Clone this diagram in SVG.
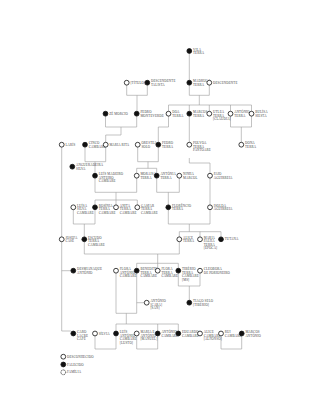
<svg xmlns="http://www.w3.org/2000/svg" width="320" height="414" viewBox="0 0 320 414">
<style>
.bg{fill:#fff}
.c{fill:none;stroke:#9a9a9a;stroke-width:0.6}
.o{fill:#fff;stroke:#111;stroke-width:0.8}
.f{fill:#111;stroke:#111;stroke-width:0.8}
text{font-family:"Liberation Serif",serif;font-size:3.2px;fill:#444;letter-spacing:0.15px}
</style>
<rect class="bg" width="320" height="414"/>
<g id="connectors">
<path class="c" d="M189.3 53.5V80.3"/>
<path class="c" d="M126.7 85V95.3H147.3V85M137 95.3V111.3"/>
<path class="c" d="M189.3 85V95.3H209.3V85M199.3 95.3V105M168.5 105H251.5M168.5 105V111.3M189.3 105V111.3M209.3 105V111.3M230.5 105V111.3M251.5 105V111.3"/>
<path class="c" d="M105.5 116V127H136.7V116M121 127V135H105.7V142.3"/>
<path class="c" d="M168.5 116V127H158.3V142.3"/>
<path class="c" d="M189.3 116V142.3"/>
<path class="c" d="M230.5 116V127H251.5V116M241.3 127V142.3"/>
<path class="c" d="M61.7 147V236.9"/>
<path class="c" d="M85 147V161.7H105.7V147M95 161.7V173.3"/>
<path class="c" d="M137.7 147V161.7H158.3V147M148 161.7V168.3M136.7 168.3H156.7M136.7 168.3V173.3M156.7 168.3V173.3"/>
<path class="c" d="M95 178V192.3H136.7V178M116 192.3V200M95 200H137.3M95 200V205M116 200V205M137.3 200V205"/>
<path class="c" d="M156.7 178V192.3H179.3V178M168.3 192.3V205"/>
<path class="c" d="M189.3 158V163H210V173.3M210 178V205"/>
<path class="c" d="M73.3 209.7V224H95V209.7M84.3 224V236.9"/>
<path class="c" d="M168.3 209.7V224H210V209.7M189.3 224V231.7M179.3 231.7H221M179.3 231.7V236.9M200 231.7V236.9M221 231.7V236.9"/>
<path class="c" d="M84.3 241.7V254H179.3V241.7M157.7 254V263.3M136.7 263.3H178.3M136.7 263.3V268.3M157.7 263.3V268.3M178.3 263.3V268.3"/>
<path class="c" d="M61.7 241.7V331H70.9"/>
<path class="c" d="M61.7 270.7H70.9"/>
<path class="c" d="M116 273V313.3H136.7V273M136.7 302.7H144.3M126.3 313.3V324M116 324H178.3M116 324V331.1M157.7 324V331.1M178.3 324V331.1"/>
<path class="c" d="M178.3 273V286H200V273M189.3 286V300.3"/>
<path class="c" d="M95 336V349H116V336"/>
<path class="c" d="M136.7 336V349H157.7V336"/>
<path class="c" d="M221 336V349H241.7V336"/>
</g>
<g id="n1"><circle class="f" cx="189.3" cy="51" r="2.4"/><text x="193" y="50.5">VILA</text><text x="193" y="54">TERRA</text></g>
<g id="n2"><circle class="o" cx="126.7" cy="82.7" r="2.4"/><text x="130.4" y="83.8">[TÍTULO]</text></g>
<g id="n3"><circle class="f" cx="147.3" cy="82.7" r="2.4"/><text x="151" y="82.2">DESCENDENTE</text><text x="151" y="85.7">TALISTA</text></g>
<g id="n4"><circle class="f" cx="189.3" cy="82.7" r="2.4"/><text x="193" y="82.2">MADRUGA</text><text x="193" y="85.7">TERRA</text></g>
<g id="n5"><circle class="o" cx="209.3" cy="82.7" r="2.4"/><text x="213" y="83.8">DESCENDENTE</text></g>
<g id="n6"><circle class="f" cx="105.5" cy="113.7" r="2.4"/><text x="109.2" y="114.8">ZÉ MORCIO</text></g>
<g id="n7"><circle class="f" cx="136.7" cy="113.7" r="2.4"/><text x="140.4" y="113.2">PEDRO</text><text x="140.4" y="116.7">MONTEVERDE</text></g>
<g id="n8"><circle class="o" cx="168.5" cy="113.7" r="2.4"/><text x="172.2" y="113.2">DOA</text><text x="172.2" y="116.7">TERRA</text></g>
<g id="n9"><circle class="f" cx="189.3" cy="113.7" r="2.4"/><text x="193" y="113.2">MARCOS</text><text x="193" y="116.7">TERRA</text></g>
<g id="n10"><circle class="o" cx="209.3" cy="113.7" r="2.4"/><text x="213" y="113.2">UTLEA</text><text x="213" y="116.7">TERRA</text><text x="213" y="120.2">[CLÁUDIA]</text></g>
<g id="n11"><circle class="o" cx="230.5" cy="113.7" r="2.4"/><text x="234.2" y="113.2">ANTÓNIO</text><text x="234.2" y="116.7">TERRA</text></g>
<g id="n12"><circle class="o" cx="251.5" cy="113.7" r="2.4"/><text x="255.2" y="113.2">BULÍSA</text><text x="255.2" y="116.7">SIESTA</text></g>
<g id="n13"><circle class="o" cx="61.7" cy="144.7" r="2.4"/><text x="65.4" y="145.8">LARÍS</text></g>
<g id="n14"><circle class="f" cx="85" cy="144.7" r="2.4"/><text x="88.7" y="144.2">CINCO</text><text x="88.7" y="147.7">CAMBARE</text></g>
<g id="n15"><circle class="o" cx="105.7" cy="144.7" r="2.4"/><text x="109.4" y="145.8">MARIA RITA</text></g>
<g id="n16"><circle class="o" cx="137.7" cy="144.7" r="2.4"/><text x="141.4" y="144.2">ORESTEA</text><text x="141.4" y="147.7">SOLO</text></g>
<g id="n17"><circle class="f" cx="158.3" cy="144.7" r="2.4"/><text x="162" y="144.2">PEDRO</text><text x="162" y="147.7">TERRA</text></g>
<g id="n18"><circle class="o" cx="189.3" cy="144.7" r="2.4"/><text x="193" y="144.2">POLVOA</text><text x="193" y="147.7">TERRA</text><text x="193" y="151.2">PANTOARE</text></g>
<g id="n19"><circle class="o" cx="241.3" cy="144.7" r="2.4"/><text x="245" y="144.2">DONA</text><text x="245" y="147.7">TERRA</text></g>
<g id="n20"><circle class="f" cx="72.3" cy="166.7" r="2.4"/><text x="76" y="166.2">ANGUERADEIRA</text><text x="76" y="169.7">SILVA</text></g>
<g id="n21"><circle class="f" cx="95" cy="175.7" r="2.4"/><text x="98.7" y="175.2">LUÍS MADEIRO</text><text x="98.7" y="178.7">ANTEIRO</text><text x="98.7" y="182.2">CAMBARE</text></g>
<g id="n22"><circle class="o" cx="136.7" cy="175.7" r="2.4"/><text x="140.4" y="175.2">MORAISA</text><text x="140.4" y="178.7">TERRA</text></g>
<g id="n23"><circle class="f" cx="156.7" cy="175.7" r="2.4"/><text x="160.4" y="175.2">ANTÓNIA</text><text x="160.4" y="178.7">TERRA</text></g>
<g id="n24"><circle class="o" cx="179.3" cy="175.7" r="2.4"/><text x="183" y="175.2">NINHA</text><text x="183" y="178.7">MARCOL</text></g>
<g id="n25"><circle class="o" cx="210" cy="175.7" r="2.4"/><text x="213.7" y="175.2">PAIO</text><text x="213.7" y="178.7">AGUIRREIA</text></g>
<g id="n26"><circle class="o" cx="73.3" cy="207.3" r="2.4"/><text x="77" y="206.8">LUÍSA</text><text x="77" y="210.3">SILVA</text><text x="77" y="213.8">CAMBARE</text></g>
<g id="n27"><circle class="f" cx="95" cy="207.3" r="2.4"/><text x="98.7" y="206.8">ROSÍNIA</text><text x="98.7" y="210.3">TERRA</text><text x="98.7" y="213.8">CAMBARE</text></g>
<g id="n28"><circle class="o" cx="116" cy="207.3" r="2.4"/><text x="119.7" y="206.8">ANITA</text><text x="119.7" y="210.3">TERRA</text><text x="119.7" y="213.8">CAMBARE</text></g>
<g id="n29"><circle class="o" cx="137.3" cy="207.3" r="2.4"/><text x="141" y="206.8">GASPAR</text><text x="141" y="210.3">TERRA</text><text x="141" y="213.8">CAMBARE</text></g>
<g id="n30"><circle class="f" cx="168.3" cy="207.3" r="2.4"/><text x="172" y="206.8">FLORÊNCIO</text><text x="172" y="210.3">TERRA</text></g>
<g id="n31"><circle class="o" cx="210" cy="207.3" r="2.4"/><text x="213.7" y="206.8">ISOLDA</text><text x="213.7" y="210.3">AGUIRREIA</text></g>
<g id="n32"><circle class="o" cx="61.7" cy="239.3" r="2.4"/><text x="65.4" y="238.8">JOSEFA</text><text x="65.4" y="242.3">CASÉ</text></g>
<g id="n33"><circle class="f" cx="84.3" cy="239.3" r="2.4"/><text x="88" y="238.8">ESCUDO</text><text x="88" y="242.3">TERRA</text><text x="88" y="245.8">CAMBARE</text></g>
<g id="n34"><circle class="o" cx="179.3" cy="239.3" r="2.4"/><text x="183" y="238.8">ALICE</text><text x="183" y="242.3">TERRA</text></g>
<g id="n35"><circle class="o" cx="200" cy="239.3" r="2.4"/><text x="203.7" y="238.8">MARIA</text><text x="203.7" y="242.3">PALHA</text><text x="203.7" y="245.8">TERRA</text><text x="203.7" y="249.3">[ÉPOCA]</text></g>
<g id="n36"><circle class="f" cx="221" cy="239.3" r="2.4"/><text x="224.7" y="240.4">TUTANA</text></g>
<g id="n37"><circle class="f" cx="73.3" cy="270.7" r="2.4"/><text x="77" y="270.2">DESMIANAQUE</text><text x="77" y="273.7">ANTÓNIO</text></g>
<g id="n38"><circle class="o" cx="116" cy="270.7" r="2.4"/><text x="119.7" y="270.2">FLORA</text><text x="119.7" y="273.7">ANTÓNIO</text><text x="119.7" y="277.2">CAMBARE</text></g>
<g id="n39"><circle class="f" cx="136.7" cy="270.7" r="2.4"/><text x="140.4" y="270.2">BENEDITO</text><text x="140.4" y="273.7">TERRA</text><text x="140.4" y="277.2">CAMBARE</text></g>
<g id="n40"><circle class="o" cx="157.7" cy="270.7" r="2.4"/><text x="161.4" y="270.2">FLORA</text><text x="161.4" y="273.7">TERRA</text><text x="161.4" y="277.2">CAMBARE</text></g>
<g id="n41"><circle class="f" cx="178.3" cy="270.7" r="2.4"/><text x="182" y="270.2">TIBÉRIO</text><text x="182" y="273.7">TERRA</text><text x="182" y="277.2">CAMBARE</text><text x="182" y="280.7">[MS]</text></g>
<g id="n42"><circle class="o" cx="200" cy="270.7" r="2.4"/><text x="203.7" y="270.2">CLEOBORA</text><text x="203.7" y="273.7">DE PORIONEIRO</text></g>
<g id="n43"><circle class="o" cx="146.7" cy="302.7" r="2.4"/><text x="150.4" y="302.2">ANTÓNIO</text><text x="150.4" y="305.7">[CARA]</text><text x="150.4" y="309.2">[SAN]</text></g>
<g id="n44"><circle class="f" cx="189.3" cy="302.7" r="2.4"/><text x="193" y="302.2">TIAGO SELO</text><text x="193" y="305.7">[TIBÉRIO]</text></g>
<g id="n45"><circle class="f" cx="73.3" cy="333.5" r="2.4"/><text x="77" y="333">CARO</text><text x="77" y="336.5">LACRE</text><text x="77" y="340">CAFÉ</text></g>
<g id="n46"><circle class="o" cx="95" cy="333.5" r="2.4"/><text x="98.7" y="334.6">SÍLVIA</text></g>
<g id="n47"><circle class="f" cx="116" cy="333.5" r="2.4"/><text x="119.7" y="333">LUÍS</text><text x="119.7" y="336.5">ANTÓNIO</text><text x="119.7" y="340">CAMBARE</text><text x="119.7" y="343.5">[LUSTO]</text></g>
<g id="n48"><circle class="o" cx="136.7" cy="333.5" r="2.4"/><text x="140.4" y="333">MARIA E</text><text x="140.4" y="336.5">ANTÓNIO</text><text x="140.4" y="340">[MANUEL]</text></g>
<g id="n49"><circle class="f" cx="157.7" cy="333.5" r="2.4"/><text x="161.4" y="333">ANTÓNIO</text><text x="161.4" y="336.5">CAMBARE</text></g>
<g id="n50"><circle class="f" cx="178.3" cy="333.5" r="2.4"/><text x="182" y="333">EDUARDO</text><text x="182" y="336.5">CAMBARE</text></g>
<g id="n51"><circle class="o" cx="200" cy="333.5" r="2.4"/><text x="203.7" y="333">ALICE</text><text x="203.7" y="336.5">CAMBARE</text><text x="203.7" y="340">[ALFONSO]</text></g>
<g id="n52"><circle class="o" cx="221" cy="333.5" r="2.4"/><text x="224.7" y="333">RUI</text><text x="224.7" y="336.5">CAMBARE</text></g>
<g id="n53"><circle class="f" cx="241.7" cy="333.5" r="2.4"/><text x="245.4" y="333">MARCOS</text><text x="245.4" y="336.5">ANTÓNIO</text></g>
<g id="legend">
<circle class="o" cx="63.3" cy="356.7" r="2.4"/><text x="67" y="357.8">DESCONHECIDO</text>
<circle class="f" cx="63.3" cy="364.5" r="2.4"/><text x="67" y="365.6">FALECIDO</text>
<circle class="o" cx="63.3" cy="372.3" r="2.4" stroke-dasharray="1 0.6"/><text x="67" y="373.4">FAMÍLIA</text>
</g>
</svg>
